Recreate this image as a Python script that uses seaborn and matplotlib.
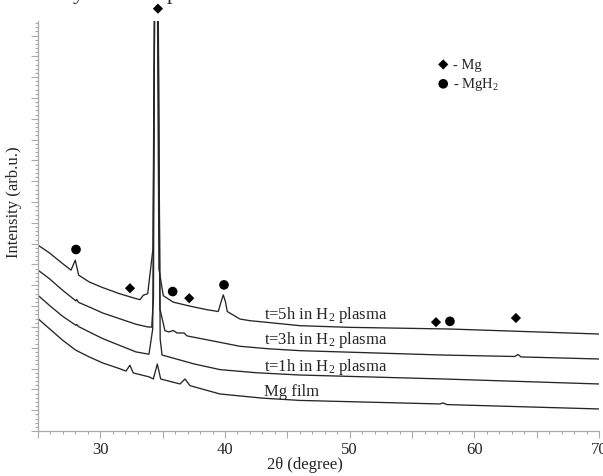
import matplotlib
matplotlib.use("Agg")
import matplotlib.pyplot as plt
import matplotlib.ticker as mticker
import pandas as pd
import seaborn as sns

# XRD patterns (stacked, arbitrary units)
two_theta_5h = [25.0, 25.91, 26.98, 27.65, 27.99, 28.26, 29.11, 30.19, 31.52, 32.86,
                33.18, 33.44, 33.80, 34.22, 34.38, 34.54, 34.70, 35.05, 35.85, 37.19,
                38.53, 39.46, 39.68, 39.86, 40.04, 40.18, 41.20, 42.00, 43.04, 46.01,
                50.02, 58.04, 69.99]
counts_5h = [8.93, 8.56, 8.04, 7.73, 8.21, 7.49, 7.16, 6.89, 6.60, 6.36,
             6.31, 6.52, 6.60, 8.75, 25.0, 25.0, 7.79, 6.50, 6.19, 6.00,
             5.83, 5.74, 6.20, 6.54, 6.20, 5.74, 5.38, 5.30, 5.24, 5.06,
             4.98, 4.90, 4.66]

two_theta_3h = [25.0, 25.91, 26.98, 28.04, 28.10, 28.25, 29.11, 30.19, 31.52, 32.86,
                33.80, 34.12, 34.26, 34.38, 34.58, 34.78, 35.18, 35.50, 35.85, 36.15,
                36.71, 36.95, 39.00, 41.20, 43.50, 46.01, 57.48, 63.25, 63.50, 63.73,
                69.99]
counts_3h = [7.73, 7.32, 6.76, 6.25, 6.32, 6.18, 5.96, 5.67, 5.40, 5.13,
             5.00, 4.99, 6.35, 25.0, 25.0, 5.87, 4.82, 4.76, 4.83, 4.71,
             4.71, 4.57, 4.33, 4.07, 3.95, 3.86, 3.65, 3.58, 3.68, 3.56,
             3.46]

two_theta_1h = [25.0, 25.91, 26.98, 28.04, 28.10, 28.25, 29.11, 30.19, 31.52, 32.86,
                33.90, 34.20, 34.40, 34.60, 34.80, 34.95, 37.54, 39.59, 42.50, 46.01,
                57.50, 69.99]
counts_1h = [6.52, 6.04, 5.51, 5.08, 5.12, 5.02, 4.76, 4.44, 4.12, 3.80,
             3.69, 4.90, 25.0, 25.0, 4.42, 3.65, 3.22, 2.95, 2.80, 2.69,
             2.50, 2.26]

two_theta_film = [25.0, 25.91, 26.98, 28.04, 29.11, 30.19, 31.52, 32.06, 32.37, 32.64,
                  33.92, 34.25, 34.57, 34.84, 36.39, 36.79, 37.19, 39.59, 43.00, 46.01,
                  57.24, 57.48, 57.80, 69.99]
counts_film = [5.40, 4.92, 4.36, 3.88, 3.56, 3.27, 3.00, 2.88, 3.16, 2.79,
               2.60, 2.50, 3.22, 2.50, 2.26, 2.50, 2.18, 1.78, 1.58, 1.47,
               1.30, 1.35, 1.27, 1.06]

# phase markers
mg_theta = [34.62, 32.38, 37.13, 56.92, 63.33]
mg_level = [20.29, 6.86, 6.38, 5.23, 5.43]
mgh2_theta = [28.05, 35.80, 39.92, 58.04]
mgh2_level = [8.72, 6.70, 7.02, 5.27]

sample_labels = ["t=5h in H$_\\mathregular{2}$ plasma", "t=3h in H$_\\mathregular{2}$ plasma",
                 "t=1h in H$_\\mathregular{2}$ plasma", "Mg film"]
label_levels = [5.63, 4.42, 3.14, 1.92]

sns.set_style("ticks")
plt.rcParams["font.family"] = ["Liberation Serif", "DejaVu Serif"]
plt.rcParams["mathtext.default"] = "regular"

frames = []
for name, tt, cc in [("5h", two_theta_5h, counts_5h), ("3h", two_theta_3h, counts_3h),
                     ("1h", two_theta_1h, counts_1h), ("film", two_theta_film, counts_film)]:
    frames.append(pd.DataFrame({"two_theta": tt, "intensity": cc, "sample": name}))
data_df = pd.concat(frames, ignore_index=True)

fig = plt.figure(figsize=(6.03, 4.77), dpi=100)
ax = fig.add_axes([0.063, 0.0943, 0.9305, 0.8597])

sns.lineplot(data=data_df, x="two_theta", y="intensity", hue="sample",
             palette=["#262626"] * 4, estimator=None, legend=False, lw=0.95, ax=ax)

sns.scatterplot(x=mg_theta, y=mg_level, marker="D", color="black", s=27,
                edgecolor="none", ax=ax, clip_on=False, zorder=5)
sns.scatterplot(x=mgh2_theta, y=mgh2_level, marker="o", color="black", s=48,
                edgecolor="none", ax=ax, clip_on=False, zorder=5)

# key
ax.scatter([57.5], [17.61], marker="D", color="black", s=27, edgecolors="none")
ax.scatter([57.5], [16.68], marker="o", color="black", s=48, edgecolors="none")
ax.text(58.3, 17.61, "- Mg", fontsize=10.5, va="center")
ax.text(58.3, 16.68, "- MgH$_\\mathregular{2}$", fontsize=10.5, va="center")

for label, level in zip(sample_labels, label_levels):
    ax.text(43.15, level, label, fontsize=12, va="center")

ax.set_xlim(25, 70)
ax.set_ylim(0, 19.7)
ax.xaxis.set_major_locator(mticker.MultipleLocator(5))
ax.xaxis.set_minor_locator(mticker.MultipleLocator(1))
ax.xaxis.set_major_formatter(mticker.FuncFormatter(
    lambda v, p: f"{v:.0f}" if round(v) % 10 == 0 and v > 25 else ""))
ax.yaxis.set_major_locator(mticker.MultipleLocator(1))
ax.yaxis.set_minor_locator(mticker.MultipleLocator(0.2))
ax.yaxis.set_major_formatter(mticker.NullFormatter())
ax.tick_params(which="major", length=5, width=0.8, color="#aaaaaa", labelsize=12, pad=2)
ax.tick_params(which="minor", length=2.5, width=0.8, color="#aaaaaa")
for side in ["top", "right"]:
    ax.spines[side].set_visible(False)
for side in ["left", "bottom"]:
    ax.spines[side].set_color("#aaaaaa")
    ax.spines[side].set_linewidth(0.9)

ax.set_xlabel("2θ (degree)", fontsize=12)
ax.xaxis.set_label_coords(0.476, -0.06)
ax.set_ylabel("Intensity (arb.u.)", fontsize=12)
ax.yaxis.set_label_coords(-0.029, 0.56)

# descenders of the caption line cut off at the top edge
fig.text(73 / 603, 1 + 1 / 477, "y", fontsize=16, va="baseline")
fig.text(167 / 603, 1 + 1 / 477, "p", fontsize=16, va="baseline")

fig.savefig("out.png", dpi=100)
